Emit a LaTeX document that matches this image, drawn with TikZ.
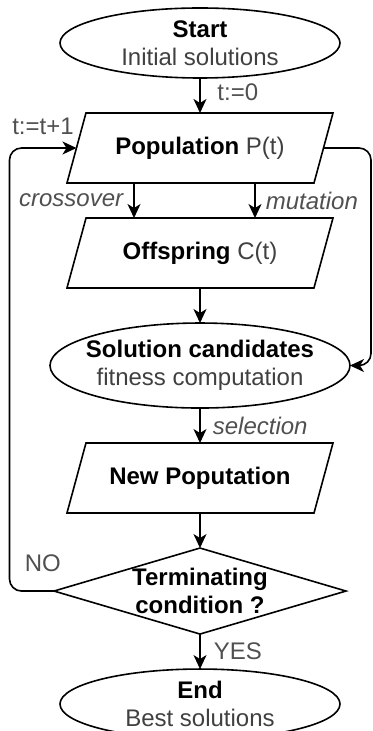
\documentclass[tikz,border=0pt]{standalone}
\usepackage{fontspec}
\setmainfont{Liberation Sans}
\usetikzlibrary{shapes.geometric,arrows.meta,positioning}
\definecolor{txtgray}{RGB}{64,64,64}
\definecolor{lblgray}{RGB}{80,80,80}

\begin{document}
\begin{tikzpicture}[
    node distance=17.5pt,
    font=\fontsize{12}{14}\selectfont,
    terminal/.style={ellipse, draw, line width=0.8pt, outer sep=0pt, align=center, inner xsep=-4pt, inner ysep=0pt, minimum width=140pt, minimum height=35pt},
    data/.style={trapezium, trapezium left angle=58, trapezium right angle=122, trapezium stretches body, draw, line width=0.8pt, outer sep=0pt, align=center, minimum width=133pt, minimum height=35pt, inner sep=2pt},
    decision/.style={diamond, aspect=3.4, draw, line width=0.8pt, outer sep=0pt, align=center, inner sep=0pt, minimum width=146pt, minimum height=43pt},
    arrow/.style={line width=0.8pt, -{Stealth[length=7pt, width=6.5pt, inset=2pt]}},
    lbl/.style={font=\fontsize{12}{14}\selectfont\itshape, text=lblgray}
]
\useasboundingbox (-100pt,-344pt) rectangle (86pt,21.5pt);

% Main column
\node[terminal] (start) {\textbf{Start}\\\textcolor{txtgray}{Initial solutions}};
\node[data, below=of start] (pop) {\textbf{Population} \textcolor{txtgray}{P(t)}};
\node[data, below=of pop] (off) {\textbf{Offspring} \textcolor{txtgray}{C(t)}};
\node[terminal, below=of off, minimum width=150pt, minimum height=42.5pt] (sol) {\textbf{Solution candidates}\\\textcolor{txtgray}{fitness computation}};
\node[data, below=of sol] (newpop) {\textbf{New Poputation}};
\node[decision, below=of newpop] (cond) {\textbf{Terminating}\\\textbf{condition ?}};
\node[terminal, below=of cond] (end) {\textbf{End}\\\textcolor{txtgray}{Best solutions}};

% Loop columns
\coordinate (lloop) at (-95.25pt,0);
\coordinate (rloop) at (85.5pt,0);

% Connections
\draw[arrow] (start) -- node[pos=0.4, right=5pt, text=lblgray] {t:=0} (pop);
\draw[arrow] ([xshift=-33pt]pop.south) -- node[lbl, left=1.7pt] {crossover} ([xshift=-33pt]off.north);
\draw[arrow] ([xshift=27.5pt]pop.south) -- node[lbl, right=1.7pt] {mutation} ([xshift=27.5pt]off.north);
\draw[arrow] (off) -- (sol);
\draw[arrow] (sol) -- node[lbl, right=2.7pt] {selection} (newpop);
\draw[arrow] (newpop) -- (cond);
\draw[arrow] (cond) -- node[right=3.2pt, text=lblgray] {YES} (end);

% Feedback loops
\draw[arrow, rounded corners=6pt] (cond.west) -- node[pos=0.25, above=5.7pt, text=lblgray] {NO} (lloop |- cond.west)
    -- (lloop |- pop.west) -- node[above=3pt, text=lblgray] {t:=t+1} (pop.west);
\draw[arrow, rounded corners=6pt] (pop.east) -- (rloop |- pop.east) -- (rloop |- sol.east) -- (sol.east);

\end{tikzpicture}
\end{document}
